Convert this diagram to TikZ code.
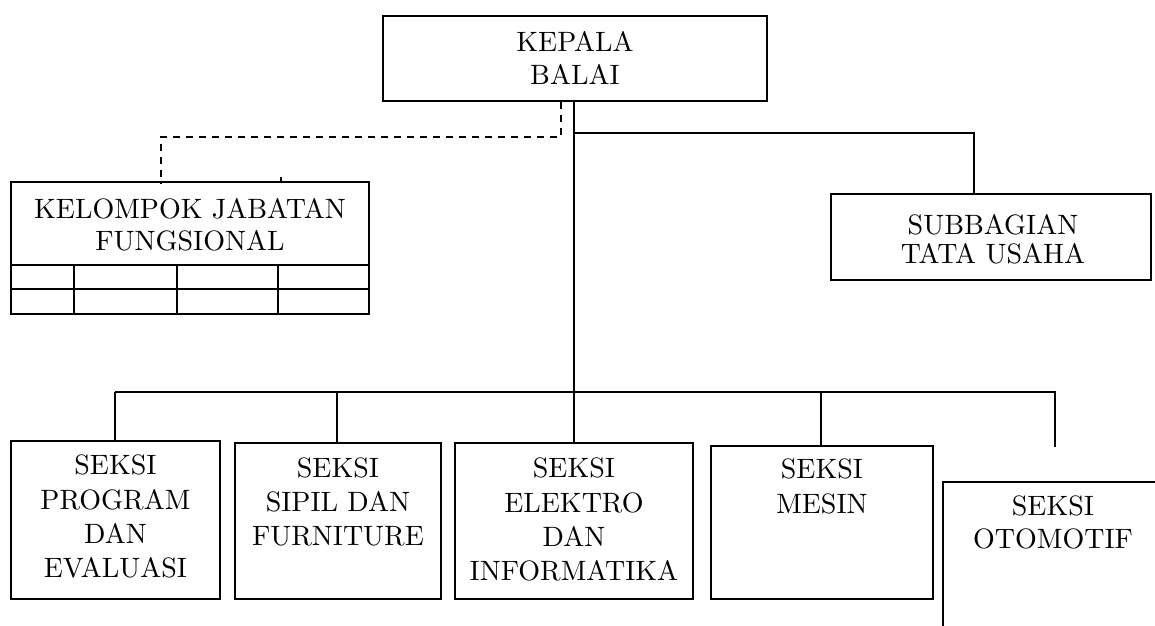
\documentclass[tikz,border=0pt]{standalone}
\usepackage{fontspec}
\setmainfont{lmroman10-regular.otf}
\begin{document}
\begin{tikzpicture}[x=1pt,y=-1pt,
  ln/.style={line width=1.9pt, black},
  dashln/.style={line width=1.9pt, black, dash pattern=on 7pt off 6pt},
  boxst/.style={draw, line width=1.9pt, rectangle, inner sep=0pt, anchor=north west},
  lbl/.style={inner sep=0pt, anchor=north, align=center, font=\fontsize{28}{34}\selectfont},
]
\useasboundingbox (0,0) rectangle (1155,625);
\clip (0,0) rectangle (1155,625);

% boxes
\node[boxst, minimum width=384pt, minimum height=85pt] (k) at (382,15) {};
\node[lbl, font=\fontsize{28}{33}\selectfont] (kt) at ([yshift=-15.9pt]k.north) {KEPALA\\BALAI};

\node[boxst, minimum width=358pt, minimum height=132pt] (kel) at (10,181) {};
\node[lbl, font=\fontsize{28}{32}\selectfont] (kelt) at ([yshift=-16.9pt]kel.north) {KELOMPOK JABATAN\\FUNGSIONAL};

\node[boxst, minimum width=320pt, minimum height=86pt] (sub) at (830,193) {};
\node[lbl, font=\fontsize{28}{29}\selectfont] (subt) at ([xshift=2pt,yshift=-20.9pt]sub.north) {SUBBAGIAN\\TATA USAHA};

\node[boxst, minimum width=209pt, minimum height=158pt] (s1) at (10,440) {};
\node[lbl, font=\fontsize{28}{34.3}\selectfont] (s1t) at ([yshift=-14.9pt]s1.north) {SEKSI\\PROGRAM\\DAN\\EVALUASI};

\node[boxst, minimum width=206pt, minimum height=156pt] (s2) at (234,442) {};
\node[lbl] (s2t) at ([yshift=-15.9pt]s2.north) {SEKSI\\SIPIL DAN\\FURNITURE};

\node[boxst, minimum width=238pt, minimum height=156pt] (s3) at (454,442) {};
\node[lbl, font=\fontsize{28}{34.3}\selectfont] (s3t) at ([yshift=-15.9pt]s3.north) {SEKSI\\ELEKTRO\\DAN\\INFORMATIKA};

\node[boxst, minimum width=222pt, minimum height=153pt] (s4) at (710,445) {};
\node[lbl, font=\fontsize{28}{35}\selectfont] (s4t) at ([yshift=-13.9pt]s4.north) {SEKSI\\MESIN};

\node[boxst, minimum width=220pt, minimum height=200pt] (s5) at (942,481) {};
\node[lbl, font=\fontsize{28}{33}\selectfont] (s5t) at ([yshift=-14.9pt]s5.north) {SEKSI\\OTOMOTIF};

% table inside KELOMPOK box
\coordinate (r1) at (10,265);
\coordinate (r2) at (10,289);
\coordinate (c1) at (74,265);
\coordinate (c2) at (177,265);
\coordinate (c3) at (278,265);
\draw[ln] (r1) -- (r1 -| kel.east);
\draw[ln] (r2) -- (r2 -| kel.east);
\draw[ln] (c1) -- (c1 |- kel.south);
\draw[ln] (c2) -- (c2 |- kel.south);
\draw[ln] (c3) -- (c3 |- kel.south);

% small tick above KELOMPOK box
\coordinate (tick) at (281,177);
\draw[line width=1.4pt] (tick) -- (tick |- kel.north);

% connectors
\coordinate (tb) at (974,133);
\coordinate (bl) at (115,392);
\coordinate (br) at (1055,392);
\coordinate (otoend) at (1055,447);
\coordinate (b2) at (337,392);
\coordinate (b4) at (821,392);

\draw[ln] (s3.north |- k.south) -- (s3.north);
\draw[ln] (s3.north |- tb) -- (tb) -- (tb |- sub.north);
\draw[ln] (bl) -- (br) -- (otoend);
\draw[ln] (bl) -- (bl |- s1.north);
\draw[ln] (b2) -- (b2 |- s2.north);
\draw[ln] (b4) -- (b4 |- s4.north);

\coordinate (d1) at (561,137);
\coordinate (d2) at (161,137);
\draw[dashln] (k.south -| d1) -- (d1) -- (d2) -- ([yshift=-3pt]kel.north -| d2);
\end{tikzpicture}
\end{document}
